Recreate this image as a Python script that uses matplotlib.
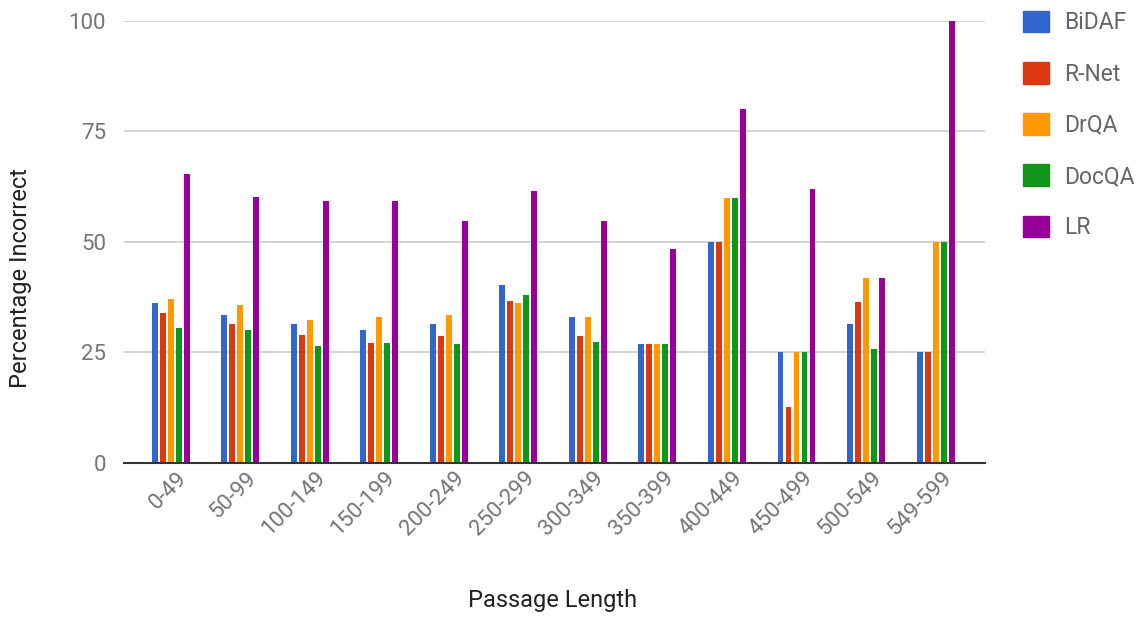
import matplotlib
matplotlib.use("Agg")
import matplotlib.pyplot as plt
import matplotlib.transforms as mtransforms
import numpy as np
from matplotlib.patches import Patch

plt.rcParams['font.family'] = ['Roboto', 'DejaVu Sans']

categories = ["0-49", "50-99", "100-149", "150-199", "200-249", "250-299",
              "300-349", "350-399", "400-449", "450-499", "500-549", "549-599"]
series_names = ["BiDAF", "R-Net", "DrQA", "DocQA", "LR"]
bidaf = [36.1, 33.4, 31.5, 30.1, 31.4, 40.2, 32.9, 26.9, 50.0, 25.0, 31.4, 25.0]
rnet  = [33.8, 31.5, 28.8, 27.2, 28.7, 36.5, 28.7, 26.9, 50.0, 12.5, 36.4, 25.0]
drqa  = [37.0, 35.6, 32.4, 32.9, 33.4, 36.1, 32.9, 26.9, 60.0, 25.0, 41.9, 50.0]
docqa = [30.6, 30.0, 26.4, 27.2, 26.9, 37.9, 27.3, 26.9, 60.0, 25.0, 25.8, 50.0]
lr    = [65.3, 60.2, 59.3, 59.3, 54.8, 61.6, 54.8, 48.3, 80.0, 62.0, 41.9, 100.0]
colors = ["#3366cc", "#dc3912", "#ff9900", "#109618", "#990099"]
yticks = [0, 25, 50, 75, 100]

data = [bidaf, rnet, drqa, docqa, lr]

fig = plt.figure(figsize=(11.46, 6.19), dpi=100)
ax = fig.add_axes([124/1146, 1 - 462.7/619, (985-124)/1146, (462.7-21)/619])

x = np.arange(len(categories))
step = 0.115
width = 0.085
for i, (vals, c) in enumerate(zip(data, colors)):
    ax.bar(x + (i - 2) * step, vals, width=width, color=c, zorder=3)

ax.set_xlim(-0.67, 11.71)
ax.set_ylim(0, 100)
ax.set_yticks(yticks)
ax.set_yticklabels([str(t) for t in yticks], fontsize=16, color="#757575")
ax.set_xticks(x)
ax.set_xticklabels(categories, rotation=45, ha="right", va="center",
                   rotation_mode="anchor", fontsize=16, color="#757575")
ax.tick_params(axis="y", length=0, pad=13)
ax.tick_params(axis="x", length=0, pad=14)
offset = mtransforms.ScaledTranslation(13/100, 7/100, fig.dpi_scale_trans)
for lbl in ax.get_xticklabels():
    lbl.set_transform(lbl.get_transform() + offset)
ax.grid(axis="y", color="#cccccc", linewidth=1.2, zorder=0)
for s in ["top", "right", "left"]:
    ax.spines[s].set_visible(False)
ax.spines["bottom"].set_color("#333333")
ax.spines["bottom"].set_linewidth(1.5)
ax.spines["bottom"].set_zorder(4)

ax.set_ylabel("Percentage Incorrect", fontsize=17, color="#222222")
ax.yaxis.set_label_coords(-0.107, 0.419)
fig.text(553/1146, 1 - 601/619, "Passage Length", fontsize=17, color="#222222",
         ha="center", va="center")

handles = [Patch(facecolor=c, edgecolor=c) for c in colors]
leg = fig.legend(handles, series_names, loc="upper left",
                 bbox_to_anchor=(1002/1146, 1 + 10/619), frameon=False,
                 fontsize=16.5, handlelength=1.13, handleheight=1.09,
                 labelspacing=1.2, handletextpad=0.7)
for t in leg.get_texts():
    t.set_color("#666666")

fig.savefig("out.png", dpi=100)
